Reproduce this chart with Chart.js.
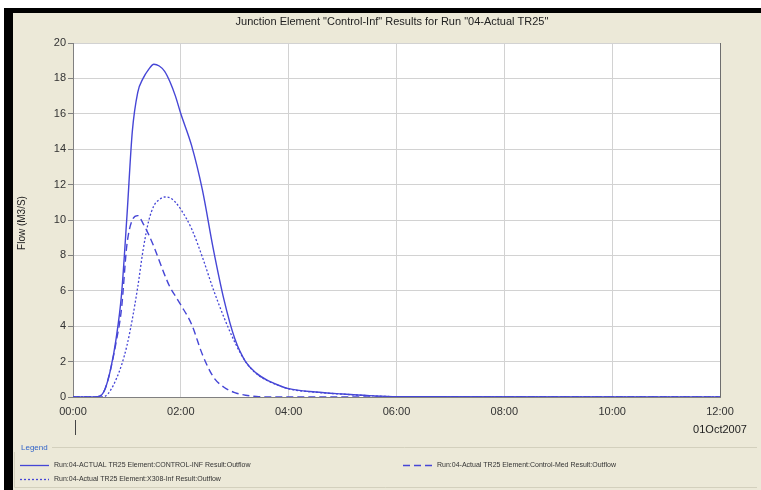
<!DOCTYPE html>
<html>
<head>
<meta charset="utf-8">
<script src="https://cdn.jsdelivr.net/npm/chart.js@4/dist/chart.umd.min.js"></script>
<style>
    html, body { margin: 0; padding: 0; background: #ffffff; }
    #wrap { position: relative; width: 761px; height: 490px; }
</style>
</head>
<body>
<div id="wrap"><canvas id="flowChart" width="761" height="490"></canvas></div>
<script>
// Chart data (hours after 00:00, flow in M3/S)
const titleText = 'Junction Element "Control-Inf" Results for Run "04-Actual TR25"';
const yAxisTitle = 'Flow (M3/S)';
const dateLabel = '01Oct2007';
const xTickHours = [0, 2, 4, 6, 8, 10, 12];
const yTicks = [0, 2, 4, 6, 8, 10, 12, 14, 16, 18, 20];

const hours = [0, 0.4, 0.5, 0.6, 0.7, 0.8, 0.9, 1.0, 1.1, 1.2, 1.3, 1.4, 1.5, 1.6, 1.7, 1.8, 1.9, 2.0,
    2.2, 2.4, 2.6, 2.8, 3.0, 3.2, 3.4, 3.6, 3.8, 4.0, 4.5, 5.0, 5.5, 6.0, 12.0];

const controlInf = [0, 0, 0.05, 0.5, 1.6, 3.3, 5.8, 10.2, 15.0, 17.2, 18.0, 18.5, 18.8, 18.7, 18.4, 17.8, 17.0, 16.0,
    14.2, 11.7, 8.4, 5.5, 3.3, 2.0, 1.35, 0.95, 0.68, 0.47, 0.28, 0.17, 0.08, 0.02, 0];
const controlMed = [0, 0, 0.05, 0.5, 1.6, 3.1, 5.0, 8.6, 10.0, 10.25, 9.8, 9.2, 8.5, 7.7, 6.9, 6.2, 5.7, 5.2,
    4.1, 2.4, 1.15, 0.55, 0.25, 0.1, 0.03, 0, 0, 0, 0, 0, 0, 0, 0];
const x308Inf = [0, 0, 0, 0.05, 0.4, 1.0, 1.8, 2.9, 4.4, 6.2, 8.3, 9.9, 10.8, 11.15, 11.3, 11.25, 11.0, 10.6,
    9.5, 7.9, 6.1, 4.5, 3.1, 2.0, 1.32, 0.93, 0.67, 0.46, 0.27, 0.16, 0.07, 0.02, 0];

const seriesNames = [
    'Run:04-ACTUAL TR25 Element:CONTROL-INF Result:Outflow',
    'Run:04-Actual TR25 Element:Control-Med Result:Outflow',
    'Run:04-Actual TR25 Element:X308-Inf Result:Outflow'
];

const lineBlue = '#4646d6';
const beige = '#ece9d8';

function toPoints(values) {
    return hours.map((h, i) => ({ x: h, y: values[i] }));
}

function pad2(n) {
    return (n < 10 ? '0' : '') + n;
}

// Frame, title, legend and other decorations
const decorations = {
    id: 'decorations',
    beforeDraw(chart) {
        const ctx = chart.ctx;
        const area = chart.chartArea;
        ctx.save();
        ctx.fillStyle = '#ffffff';
        ctx.fillRect(0, 0, chart.width, chart.height);
        ctx.fillStyle = beige;
        ctx.fillRect(8, 8, chart.width - 8, chart.height - 8);
        ctx.fillStyle = '#ffffff';
        ctx.fillRect(area.left, area.top, area.right - area.left, area.bottom - area.top);
        ctx.fillStyle = '#000000';
        ctx.fillRect(4, 8, 9, chart.height - 8);
        ctx.fillRect(4, 8, chart.width - 4, 5);
        ctx.restore();
    },
    afterDraw(chart) {
        const ctx = chart.ctx;
        const area = chart.chartArea;
        ctx.save();

        // plot border on the right
        ctx.strokeStyle = '#6e6e6e';
        ctx.lineWidth = 1;
        ctx.beginPath();
        ctx.moveTo(area.right + 0.5, area.top);
        ctx.lineTo(area.right + 0.5, area.bottom);
        ctx.stroke();

        // title
        ctx.fillStyle = '#222222';
        ctx.font = '11px "Liberation Sans", Arial, sans-serif';
        ctx.textAlign = 'center';
        ctx.textBaseline = 'middle';
        ctx.fillText(titleText, 392, 22);

        // y axis title
        ctx.save();
        ctx.translate(22, 223);
        ctx.rotate(-Math.PI / 2);
        ctx.font = '10px "Liberation Sans", Arial, sans-serif';
        ctx.fillText(yAxisTitle, 0, 0);
        ctx.restore();

        // date under the last tick and start marker
        ctx.font = '11px "Liberation Sans", Arial, sans-serif';
        ctx.fillText(dateLabel, chart.scales.x.getPixelForValue(12), 430);
        ctx.strokeStyle = '#444444';
        ctx.beginPath();
        ctx.moveTo(75.5, 420);
        ctx.lineTo(75.5, 435);
        ctx.stroke();

        // legend group box
        ctx.strokeStyle = '#d3d0bd';
        ctx.beginPath();
        ctx.moveTo(52, 447.5);
        ctx.lineTo(757, 447.5);
        ctx.moveTo(14.5, 452);
        ctx.lineTo(14.5, 487.5);
        ctx.lineTo(757, 487.5);
        ctx.stroke();
        ctx.fillStyle = '#3264c8';
        ctx.font = '8px "Liberation Sans", Arial, sans-serif';
        ctx.textAlign = 'left';
        ctx.fillText('Legend', 21, 448);

        const entries = [
            { ds: 0, x: 20, y: 465 },
            { ds: 1, x: 403, y: 465 },
            { ds: 2, x: 20, y: 479 }
        ];
        entries.forEach(e => {
            const ds = chart.data.datasets[e.ds];
            ctx.strokeStyle = ds.borderColor;
            ctx.lineWidth = 1.3;
            ctx.setLineDash(ds.borderDash || []);
            ctx.beginPath();
            ctx.moveTo(e.x, e.y + 0.5);
            ctx.lineTo(e.x + 29, e.y + 0.5);
            ctx.stroke();
            ctx.setLineDash([]);
            ctx.fillStyle = '#333333';
            ctx.font = '7px "Liberation Sans", Arial, sans-serif';
            ctx.fillText(ds.label, e.x + 34, e.y);
        });
        ctx.restore();
    }
};

const ctx = document.getElementById('flowChart');

new Chart(ctx, {
    type: 'line',
    data: {
        datasets: [
            {
                label: seriesNames[0],
                data: toPoints(controlInf),
                borderColor: lineBlue,
                borderWidth: 1.4
            },
            {
                label: seriesNames[1],
                data: toPoints(controlMed),
                borderColor: lineBlue,
                borderWidth: 1.4,
                borderDash: [7, 4]
            },
            {
                label: seriesNames[2],
                data: toPoints(x308Inf),
                borderColor: lineBlue,
                borderWidth: 1.3,
                borderDash: [2, 2]
            }
        ]
    },
    options: {
        responsive: false,
        animation: false,
        events: [],
        layout: {
            padding: { left: 0, right: 41, top: 43, bottom: 73 }
        },
        elements: {
            point: { radius: 0 },
            line: { cubicInterpolationMode: 'monotone', fill: false }
        },
        plugins: {
            legend: { display: false },
            title: { display: false },
            tooltip: { enabled: false }
        },
        scales: {
            x: {
                type: 'linear',
                min: 0,
                max: 12,
                afterBuildTicks: axis => {
                    axis.ticks = xTickHours.map(v => ({ value: v }));
                },
                afterFit: axis => { axis.height = 20; },
                grid: {
                    color: '#d2d2d2',
                    drawTicks: false
                },
                border: { color: '#808080' },
                ticks: {
                    padding: 8,
                    color: '#333333',
                    font: { family: '"Liberation Sans", Arial, sans-serif', size: 11 },
                    maxRotation: 0,
                    callback: v => pad2(v) + ':00'
                }
            },
            y: {
                min: 0,
                max: 20,
                afterBuildTicks: axis => {
                    axis.ticks = yTicks.map(v => ({ value: v }));
                },
                afterFit: axis => { axis.width = 73; },
                grid: {
                    color: '#d2d2d2',
                    tickColor: '#808080',
                    tickLength: 5
                },
                border: { color: '#808080' },
                ticks: {
                    padding: 2,
                    color: '#333333',
                    font: { family: '"Liberation Sans", Arial, sans-serif', size: 11 }
                }
            }
        }
    },
    plugins: [decorations]
});
</script>
</body>
</html>
